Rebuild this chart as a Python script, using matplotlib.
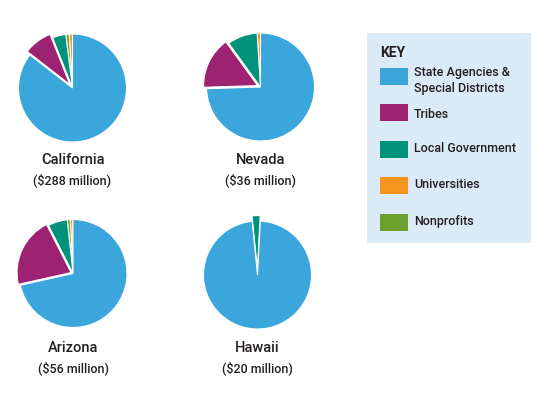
import matplotlib
matplotlib.use("Agg")
import matplotlib.pyplot as plt
from matplotlib import font_manager
from matplotlib.patches import Rectangle

# ---- data ----
categories = ["State Agencies &\nSpecial Districts", "Tribes", "Local Government", "Universities", "Nonprofits"]
colors = ["#3aa6db", "#9e2272", "#00927a", "#f7941d", "#6d9f2e"]
states = ["California", "Nevada", "Arizona", "Hawaii"]
totals = ["($288 million)", "($36 million)", "($56 million)", "($20 million)"]
# percentages per state: State, Tribes, Local, Universities, Nonprofits
california = [85.5, 8.5, 4.0, 1.0, 1.0]
nevada = [74.5, 15.5, 9.0, 1.0, 0.0]
arizona = [71.5, 21.0, 5.8, 0.8, 0.9]
hawaii = [97.6, 0.0, 2.4, 0.0, 0.0]
shares = [california, nevada, arizona, hawaii]

# ---- fonts ----
avail = {f.name for f in font_manager.fontManager.ttflist}
fam = [f for f in ["Liberation Sans Narrow", "Roboto", "DejaVu Sans"] if f in avail] or ["DejaVu Sans"]
plt.rcParams["font.family"] = fam

W, H = 535, 400
fig = plt.figure(figsize=(W / 100, H / 100), dpi=100)
fig.patch.set_facecolor("white")

def fx(x):
    return x / W

def fy(y):
    return 1 - y / H

centers = [(72.5, 88), (260.5, 87), (73, 273.5), (257.5, 275)]
starts = [90, 90, 90, 87]
R = 54
explodes = [
    [0, 0.08, 0, 0, 0],
    [0, 0.06, 0, 0, 0],
    [0, 0.04, 0, 0, 0],
    [0, 0, 0.1, 0, 0],
]
label_y = [(160, 180), (160, 180), (348, 368), (348, 368)]
txtcol = "#231f20"

for i, (cx, cy) in enumerate(centers):
    ax = fig.add_axes([fx(cx - R), fy(cy + R), 2 * R / W, 2 * R / H])
    vals = shares[i]
    # order around the pie counterclockwise from top: Universities, Nonprofits, Local, Tribes, State
    order = [3, 4, 2, 1, 0]
    v = [vals[k] for k in order]
    c = [colors[k] for k in order]
    e = [explodes[i][k] for k in order]
    wedges, _ = ax.pie(v, colors=c, explode=e, startangle=starts[i], counterclock=True,
                       radius=1, wedgeprops=dict(edgecolor="white", linewidth=0.8))
    for w in wedges:
        w.set_clip_on(False)
    ax.set_xlim(-1, 1)
    ax.set_ylim(-1, 1)
    ax.axis("off")
    fig.text(fx(cx), fy(label_y[i][0]), states[i], ha="center", va="center",
             fontsize=10.5, color=txtcol, fontweight="medium")
    fig.text(fx(cx), fy(label_y[i][1]), totals[i], ha="center", va="center",
             fontsize=9, color=txtcol, fontweight="medium")

# ---- key box ----
fig.patches.append(Rectangle((fx(367), fy(243)), (531 - 367) / W, (243 - 33) / H,
                             transform=fig.transFigure, facecolor="#dbeaf7",
                             edgecolor="none", zorder=0))
fig.text(fx(380), fy(53), "KEY", ha="left", va="center", fontsize=10,
         fontweight="bold", color=txtcol)
sw_y = [76, 112.5, 149, 185.5, 222.5]
tx_y = [80.5, 115, 148, 184.5, 221]
for k in range(5):
    fig.patches.append(Rectangle((fx(380), fy(sw_y[k] + 8.5)), 28 / W, 17 / H,
                                 transform=fig.transFigure, facecolor=colors[k],
                                 edgecolor="none", zorder=1))
    fig.text(fx(414), fy(tx_y[k]), categories[k], ha="left", va="center",
             fontsize=9, color=txtcol, linespacing=1.3, fontweight="medium")

fig.savefig("out.png", dpi=100, facecolor="white")
